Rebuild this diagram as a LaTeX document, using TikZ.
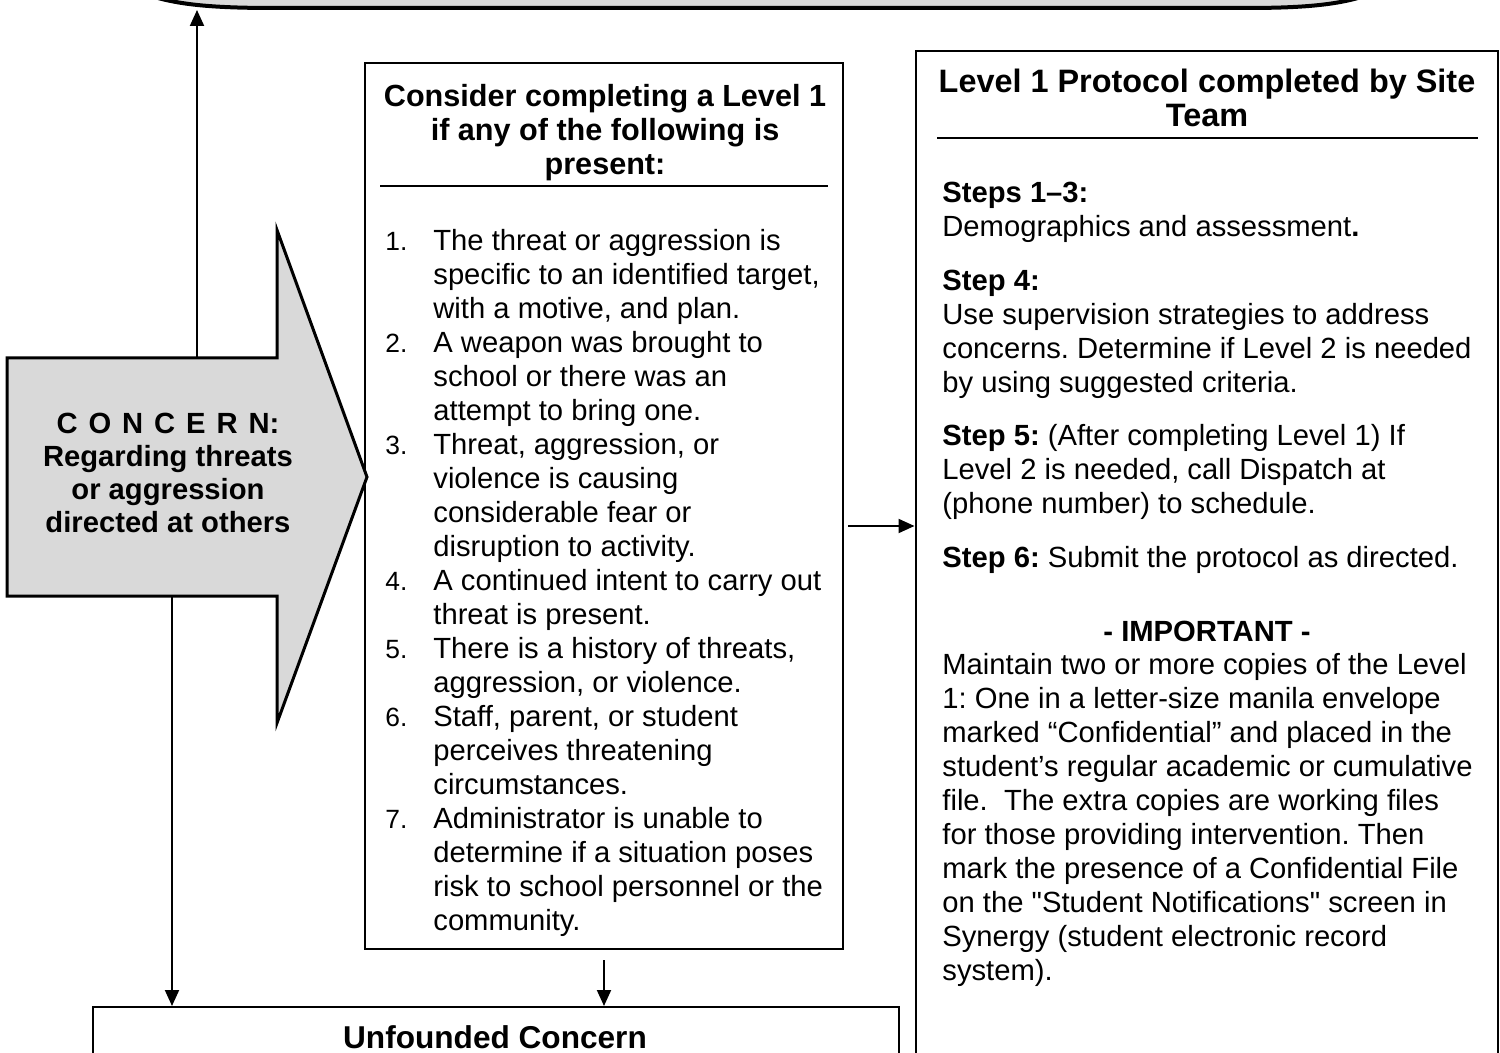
\documentclass[tikz,border=0pt]{standalone}
\usepackage{fontspec}
\setmainfont{Liberation Sans}[Ligatures=TeXOff]
\usetikzlibrary{arrows.meta}
\definecolor{shade}{HTML}{D9D9D9}
\frenchspacing
\newcommand{\bodyf}{\fontsize{14.6}{17}\selectfont}
\newcommand{\numf}{\fontsize{13.2}{17}\selectfont}
\newcommand{\nm}[1]{\makebox[24pt][l]{\numf #1}}
\newcommand{\ind}{\hspace*{24pt}}
\newcommand{\lsp}{\ \kern1.4pt}
\begin{document}
\begin{tikzpicture}[x=0.5pt,y=-0.5pt,
  frame/.style={draw,line width=1pt,inner sep=0pt},
  conn/.style={line width=1pt,-{Triangle[length=8pt,width=7pt]}},
  para/.style={anchor=north west,align=left,inner sep=0pt,font=\bodyf},
  ttl/.style={anchor=north,align=center,inner sep=0pt},
  rule/.style={line width=1pt}]
\useasboundingbox (0,0) rectangle (1500,1053);
\clip (0,0) rectangle (1500,1053);
\fill[white] (0,0) rectangle (1500,1053);

% top banner (cut off)
\draw[line width=2pt,fill=shade] (95,-80) .. controls (95,0) and (170,8) .. (275,8) -- (1245,8) .. controls (1345,8) and (1420,0) .. (1420,-80) -- cycle;
\coordinate (topB) at (197,10);

% boxes
\node[frame,minimum width=239pt,minimum height=443pt] (mid) at (604,506) {};
\node[frame,minimum width=291pt,minimum height=512pt] (rbox) at (1206.5,563) {};
\node[frame,minimum width=403pt,minimum height=40pt] (unf) at (496,1047) {};

% concern arrow
\draw[line width=1.5pt,fill=shade,line join=miter] (7,358) -- (277,358) -- (277,230) -- (367,477) -- (277,723) -- (277,596) -- (7,596) -- cycle;
\coordinate (cTop) at (197,357);
\coordinate (cBot) at (172,597);
\node[ttl,font=\bfseries\fontsize{14.6}{16.5}\selectfont] (concern) at (168,410) {\strut C\lsp O\lsp N\lsp C\lsp E\lsp R\lsp N:\\Regarding threats\\or aggression\\directed at others};

% middle box content
\node[ttl,font=\bfseries\fontsize{15.3}{17}\selectfont] (midtitle) at (605,82) {\strut Consider completing a Level 1\\if any of the following is\\present:};
\draw[rule] (380,186) -- (828,186);
\node[para] (list) at (385,226) {\strut\nm{1.}The threat or aggression is\\
\ind specific to an identified target,\\
\ind with a motive, and plan.\\
\nm{2.}A weapon was brought to\\
\ind school or there was an\\
\ind attempt to bring one.\\
\nm{3.}Threat, aggression, or\\
\ind violence is causing\\
\ind considerable fear or\\
\ind disruption to activity.\\
\nm{4.}A continued intent to carry out\\
\ind threat is present.\\
\nm{5.}There is a history of threats,\\
\ind aggression, or violence.\\
\nm{6.}Staff, parent, or student\\
\ind perceives threatening\\
\ind circumstances.\\
\nm{7.}Administrator is unable to\\
\ind determine if a situation poses\\
\ind risk to school personnel or the\\
\ind community.};

% right box content
\node[ttl,font=\bfseries\fontsize{16.2}{17}\selectfont] (rtitle) at (1207,68) {\strut Level 1 Protocol completed by Site\\Team};
\draw[rule] (937,138) -- (1478,138);
\node[para] (p1) at (942,178) {\strut\textbf{Steps 1–3:}\\Demographics and assessment\textbf{.}};
\node[para] (p2) at (942,266) {\strut\textbf{Step 4:}\\Use supervision strategies to address\\concerns. Determine if Level 2 is needed\\by using suggested criteria.};
\node[para] (p3) at (942,421) {\strut\textbf{Step 5:} (After completing Level 1) If\\Level 2 is needed, call Dispatch at\\(phone number) to schedule.};
\node[para] (p4) at (942,543) {\strut\textbf{Step 6:} Submit the protocol as directed.};
\node[ttl,font=\bfseries\bodyf] (imp) at (1207,617) {\strut - IMPORTANT -};
\node[para] (p5) at (942,650) {\strut Maintain two or more copies of the Level\\
1: One in a letter-size manila envelope\\
marked “Confidential” and placed in the\\
student’s regular academic or cumulative\\
file.\ \ The extra copies are working files\\
for those providing intervention. Then\\
mark the presence of a Confidential File\\
on the "Student Notifications" screen in\\
Synergy (student electronic record\\
system).};

% unfounded
\node[ttl,font=\bfseries\fontsize{15.8}{17}\selectfont] (unftext) at (495,1024) {\strut Unfounded Concern};

% connectors
\draw[conn] (cTop) -- (topB);
\draw[conn] (cBot) -- (cBot |- unf.north);
\draw[conn] ([yshift=-5pt]mid.south) -- (mid.south |- unf.north);
\coordinate (ra) at (848,526);
\draw[conn] (ra) -- (ra -| rbox.west);
\end{tikzpicture}
\end{document}
